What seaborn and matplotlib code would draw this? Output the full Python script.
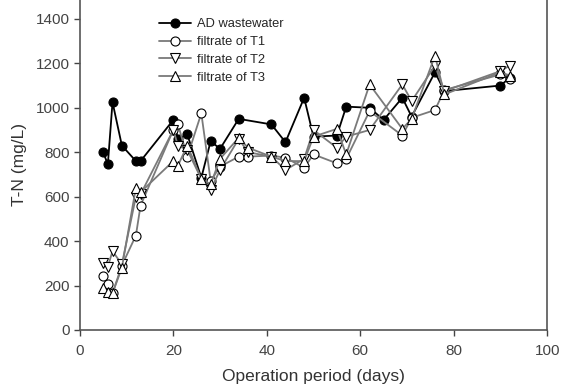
import matplotlib
matplotlib.use("Agg")
import matplotlib.pyplot as plt
import seaborn as sb
import pandas as pd

# AD wastewater
ad_days = [5, 6, 7, 9, 12, 13, 20, 21, 23, 26, 28, 30, 34, 41, 44, 48, 50, 55, 57, 62, 65, 69, 71, 76, 78, 90, 92]
ad_tn = [800, 745, 1025, 830, 760, 760, 945, 860, 880, 685, 850, 815, 950, 925, 845, 1045, 870, 875, 1005, 1000, 945, 1045, 960, 1160, 1075, 1100, 1135]

# filtrates
t_days = [5, 6, 7, 9, 12, 13, 20, 21, 23, 26, 28, 30, 34, 36, 41, 44, 48, 50, 55, 57, 62, 69, 71, 76, 78, 90, 92]
t1_tn = [245, 205, 165, 290, 425, 560, 900, 925, 780, 975, 670, 735, 780, 780, 785, 775, 730, 790, 750, 770, 985, 875, 955, 990, 1080, 1150, 1130]
t2_tn = [300, 285, 355, 295, 600, 610, 900, 830, 810, 680, 630, 720, 860, 800, 780, 720, 770, 900, 820, 870, 900, 1105, 1030, 1190, 1075, 1165, 1190]
t3_tn = [190, 170, 165, 280, 640, 620, 760, 740, 830, 680, 655, 770, 865, 820, 780, 760, 760, 870, 905, 790, 1105, 905, 950, 1235, 1060, 1160, 1145]

sb.set_style("ticks")
plt.rcParams["font.family"] = ["Liberation Sans", "DejaVu Sans"]

fig = plt.figure(figsize=(5.7, 3.9), dpi=100)
ax = fig.add_axes([0.140, 0.154, 0.820, 0.846])

series = [
	("AD wastewater", ad_days, ad_tn, "o", "black", "black"),
	("filtrate of T1", t_days, t1_tn, "o", "#7a7a7a", "white"),
	("filtrate of T2", t_days, t2_tn, "v", "#7a7a7a", "white"),
	("filtrate of T3", t_days, t3_tn, "^", "#7a7a7a", "white"),
]

for name, xs, ys, mk, lc, fc in series:
	df = pd.DataFrame({"day": xs, "tn": ys})
	sb.lineplot(data=df, x="day", y="tn", ax=ax, sort=False, estimator=None,
		color=lc, linewidth=1.3, marker=mk, markersize=6.5,
		markerfacecolor=fc, markeredgecolor="black", markeredgewidth=0.8,
		label=name)

ax.set_xlim(0, 100)
ax.set_ylim(0, 1485)
ax.set_xticks(range(0, 101, 20))
ax.set_yticks(range(0, 1401, 200))
ax.tick_params(labelsize=11, colors="#444444", length=4, width=1)
ax.tick_params(axis="x", pad=6)
ax.set_xlabel("Operation period (days)", fontsize=12.5, color="#333333", labelpad=8)
ax.set_ylabel("T-N (mg/L)", fontsize=12.5, color="#333333", labelpad=6)

for s in ["left", "right", "bottom"]:
	ax.spines[s].set_color("#555555")
	ax.spines[s].set_linewidth(1.2)
ax.spines["top"].set_visible(False)

ax.legend(loc="upper left", bbox_to_anchor=(0.145, 0.98), frameon=False,
	fontsize=9.3, handlelength=2.5, labelspacing=0.45, handletextpad=0.4)

fig.savefig("out.png", dpi=100)
